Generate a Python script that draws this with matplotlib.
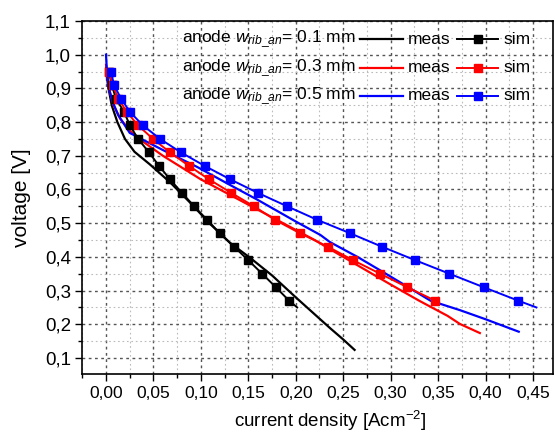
import matplotlib
matplotlib.use("Agg")
import matplotlib.pyplot as plt
from matplotlib.lines import Line2D
from matplotlib.ticker import MultipleLocator, FuncFormatter

plt.rcParams['font.family'] = ['Liberation Sans', 'DejaVu Sans']
plt.rcParams['mathtext.fontset'] = 'custom'
plt.rcParams['mathtext.rm'] = 'Liberation Sans'
plt.rcParams['mathtext.it'] = 'Liberation Sans:italic'

# ---- data (current density [A/cm2], voltage [V]) ----
black_meas_x = [0.000, 0.002, 0.006, 0.012, 0.020, 0.030, 0.046, 0.068, 0.089, 0.110, 0.131, 0.152, 0.175, 0.200, 0.236, 0.250, 0.262]
black_meas_y = [0.960, 0.910, 0.850, 0.800, 0.750, 0.712, 0.675, 0.620, 0.560, 0.497, 0.441, 0.397, 0.345, 0.280, 0.189, 0.155, 0.124]

red_meas_x = [0.000, 0.003, 0.008, 0.015, 0.025, 0.040, 0.060, 0.080, 0.100, 0.130, 0.160, 0.190, 0.220, 0.236, 0.270, 0.300, 0.330, 0.360, 0.373, 0.394]
red_meas_y = [0.970, 0.900, 0.850, 0.810, 0.775, 0.740, 0.700, 0.665, 0.630, 0.585, 0.540, 0.495, 0.450, 0.423, 0.367, 0.318, 0.270, 0.225, 0.201, 0.174]

blue_meas_x = [0.000, 0.001, 0.003, 0.007, 0.013, 0.025, 0.060, 0.096, 0.131, 0.160, 0.200, 0.226, 0.236, 0.265, 0.292, 0.318, 0.342, 0.373, 0.400, 0.435]
blue_meas_y = [1.000, 0.950, 0.900, 0.860, 0.820, 0.768, 0.717, 0.667, 0.613, 0.569, 0.505, 0.465, 0.444, 0.400, 0.355, 0.311, 0.270, 0.242, 0.215, 0.178]

sim_v = [0.95, 0.91, 0.87, 0.83, 0.79, 0.75, 0.71, 0.67, 0.63, 0.59, 0.55, 0.51, 0.47, 0.43, 0.39, 0.35, 0.31, 0.27]
black_sim_x = [0.003, 0.006, 0.0105, 0.019, 0.0253, 0.0338, 0.0454, 0.0559, 0.0675, 0.080, 0.093, 0.1065, 0.120, 0.135, 0.150, 0.1646, 0.179, 0.193]
red_sim_x = [0.003, 0.007, 0.013, 0.022, 0.0338, 0.0496, 0.0675, 0.0875, 0.1086, 0.132, 0.156, 0.178, 0.2046, 0.234, 0.2605, 0.289, 0.3175, 0.347]
blue_sim_x = [0.0053, 0.0084, 0.0158, 0.0253, 0.039, 0.057, 0.079, 0.104, 0.131, 0.160, 0.191, 0.2226, 0.2574, 0.291, 0.326, 0.362, 0.398, 0.4346]
# last simulated points (line only, no marker)
black_sim_end = (0.2015, 0.25)
blue_sim_end = (0.4536, 0.25)

rib_widths = ['0.1', '0.3', '0.5']
colors = ['black', 'red', 'blue']

x_ticks = [0.00, 0.05, 0.10, 0.15, 0.20, 0.25, 0.30, 0.35, 0.40, 0.45]
y_ticks = [0.1, 0.2, 0.3, 0.4, 0.5, 0.6, 0.7, 0.8, 0.9, 1.0, 1.1]

W, H = 555, 434
fig = plt.figure(figsize=(W / 100, H / 100), dpi=100)
ax = fig.add_axes([82 / W, 1 - 374 / H, (553 - 82) / W, (374 - 21) / H])

# grid
ax.set_axisbelow(True)
ax.xaxis.set_minor_locator(MultipleLocator(0.025))
ax.yaxis.set_minor_locator(MultipleLocator(0.05))
ax.grid(which='major', color='#555555', linestyle=(0, (2, 2.5)), linewidth=1.0)
ax.grid(which='minor', color='#bbbbbb', linestyle=(0, (1.5, 2.5)), linewidth=0.8)

lw_meas = 1.6
lw_sim = 1.4
ms = 5.5

ax.plot(black_meas_x, black_meas_y, color='black', lw=lw_meas, zorder=3)
ax.plot(red_meas_x, red_meas_y, color='red', lw=lw_meas, zorder=3)
ax.plot(blue_meas_x, blue_meas_y, color='blue', lw=lw_meas, zorder=3)

bx = black_sim_x + [black_sim_end[0]]
by = sim_v + [black_sim_end[1]]
ax.plot(bx, by, color='black', lw=lw_sim, marker='s', ms=ms, markevery=list(range(len(sim_v))), zorder=4)
ax.plot(red_sim_x, sim_v, color='red', lw=lw_sim, marker='s', ms=ms, zorder=4)
ux = blue_sim_x + [blue_sim_end[0]]
uy = sim_v + [blue_sim_end[1]]
ax.plot(ux, uy, color='blue', lw=lw_sim, marker='s', ms=ms, markevery=list(range(len(sim_v))), zorder=4)

ax.set_xlim(-0.0253, 0.4711)
ax.set_ylim(0.0525, 1.1)
ax.set_xticks(x_ticks)
ax.set_yticks(y_ticks)
ax.xaxis.set_major_formatter(FuncFormatter(lambda v, p: f"{v:.2f}".replace('.', ',')))
ax.yaxis.set_major_formatter(FuncFormatter(lambda v, p: f"{v:.1f}".replace('.', ',')))
ax.tick_params(axis='x', which='major', direction='out', length=5, width=1.0, labelsize=12.5, pad=4)
ax.tick_params(axis='y', which='major', direction='out', length=5, width=1.0, labelsize=13.5, pad=3)
ax.tick_params(which='minor', direction='out', length=3, width=1.0)
for s in ax.spines.values():
    s.set_linewidth(1.2)

fig.text(330 / W, 1 - 421 / H, 'current density [Acm$^{\\mathregular{-2}}$]', ha='center', va='center', fontsize=13.5)
fig.text(22 / W, 1 - ((21 + 374) / 2) / H, 'voltage [V]', ha='center', va='center', rotation=90, fontsize=15)

# custom legend
rows_y = [39, 68, 96]
for wv, c, yy in zip(rib_widths, colors, rows_y):
    yf = 1 - yy / H
    fig.text(182 / W, yf, 'anode $w_{rib\\_an}$= ' + wv + ' mm', ha='left', va='center', fontsize=12.5)
    fig.add_artist(Line2D([360 / W, 403 / W], [yf, yf], color=c, lw=lw_meas, transform=fig.transFigure))
    fig.text(408 / W, yf, 'meas', ha='left', va='center', fontsize=12.5)
    fig.add_artist(Line2D([457 / W, 498 / W], [yf, yf], color=c, lw=lw_sim, transform=fig.transFigure))
    fig.add_artist(Line2D([477.5 / W], [yf], color=c, marker='s', ms=ms, transform=fig.transFigure))
    fig.text(503 / W, yf, 'sim', ha='left', va='center', fontsize=12.5)

fig.savefig('out.png', dpi=100)
